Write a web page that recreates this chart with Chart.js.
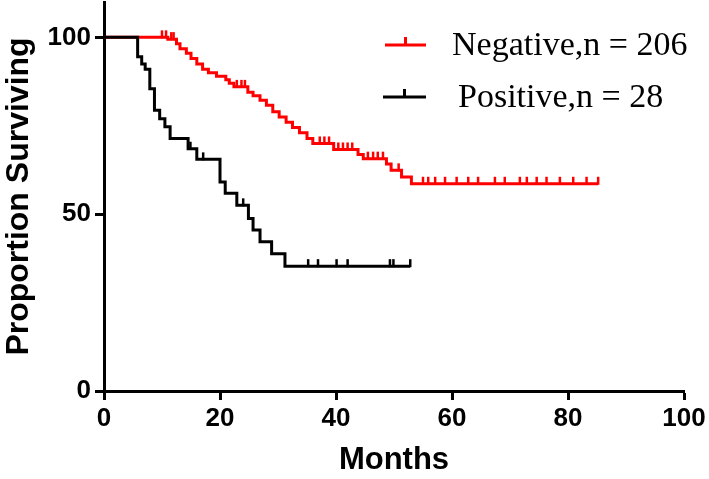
<!DOCTYPE html>
<html>
<head>
<meta charset="utf-8">
<script src="https://cdn.jsdelivr.net/npm/chart.js@4.4.0/dist/chart.umd.min.js"></script>
<style>
  html, body { margin: 0; padding: 0; background: #fff; }
  #wrap { width: 709px; height: 479px; position: relative; }
</style>
</head>
<body>
<div id="wrap"><canvas id="km"></canvas></div>
<script>
// Kaplan-Meier data (months, % surviving)
const negTimes = [0, 11.0, 12.5, 13.1, 14.2, 15.0, 16.0, 17.0, 18.0, 19.4, 21.0, 21.6, 22.4, 24.8, 25.7, 26.9, 28.0, 29.1, 30.2, 31.4, 32.5, 33.7, 35.0, 36.0, 39.6, 43.8, 44.7, 48.7, 49.5, 51.3, 53.0, 85.2];
const negSurv  = [100, 99.5, 98.2, 96.8, 95.5, 94, 92.5, 91, 90, 89, 88, 87, 86, 84.5, 83.5, 82.2, 80.8, 79, 77.5, 76, 74.5, 73, 71.4, 70, 68.3, 66.9, 65.7, 64.2, 62.4, 60.5, 58.6, 58.6];
const negCensored = [10.0, 10.7, 11.6, 12.0, 22.9, 23.7, 24.3, 37.2, 38.0, 38.8, 40.4, 41.2, 42.0, 42.8, 45.5, 46.4, 47.2, 48.1, 50.8, 55.0, 55.9, 57.1, 58.8, 60.8, 62.8, 64.5, 67.4, 69.1, 71.7, 72.9, 74.6, 76.3, 78.6, 80.9, 83.2, 85.2];

const posTimes = [0, 5.8, 6.5, 7.1, 7.9, 8.7, 9.6, 10.5, 11.4, 14.5, 16.0, 20.0, 20.9, 22.9, 24.9, 25.7, 26.9, 28.9, 31.2, 52.8];
const posSurv  = [100, 94.5, 92.5, 91, 85.5, 79.4, 77, 74.7, 71.4, 68.5, 65.5, 59.1, 55.9, 52.5, 48.8, 45.5, 42.2, 38.8, 35.3, 35.3];
const posCensored = [14.9, 17.1, 24.0, 35.2, 36.9, 40.1, 42.0, 49.3, 49.9, 52.8];

const xTicks = [0, 20, 40, 60, 80, 100];
const yTicks = [0, 50, 100];
const seriesLabels = ["Negative,n = 206", "Positive,n = 28"];
const seriesColors = ["#ff0000", "#000000"];

function toPoints(ts, vs){ return ts.map((t,i)=>({x:t, y:vs[i]})); }
function survAt(ts, vs, t){
  let v = vs[0];
  for(let i=0;i<ts.length;i++){ if(ts[i] <= t) v = vs[i]; }
  return v;
}

// censor tick marks, drawn through the chart scales
const censorPlugin = {
  id: 'censor',
  afterDatasetsDraw(chart){
    const {ctx, scales:{x, y}} = chart;
    const groups = [
      {ts: posTimes, vs: posSurv, c: posCensored, color: seriesColors[1]},
      {ts: negTimes, vs: negSurv, c: negCensored, color: seriesColors[0]}
    ];
    ctx.save();
    ctx.lineWidth = 2.5;
    groups.forEach(g=>{
      ctx.strokeStyle = g.color;
      g.c.forEach(t=>{
        const px = x.getPixelForValue(t);
        const py = y.getPixelForValue(survAt(g.ts, g.vs, t));
        ctx.beginPath();
        ctx.moveTo(px, py + 1);
        ctx.lineTo(px, py - 7);
        ctx.stroke();
      });
    });
    ctx.restore();
  }
};

// legend in the top right, line with tick + serif text
const legendPlugin = {
  id: 'kmLegend',
  afterDraw(chart){
    const ctx = chart.ctx;
    const rows = [
      {x0: 385, x1: 426, y: 45, tx: 452, label: seriesLabels[0], color: seriesColors[0]},
      {x0: 383, x1: 426, y: 97, tx: 458, label: seriesLabels[1], color: seriesColors[1]}
    ];
    ctx.save();
    rows.forEach(r=>{
      ctx.strokeStyle = r.color;
      ctx.lineWidth = 3;
      ctx.beginPath();
      ctx.moveTo(r.x0, r.y); ctx.lineTo(r.x1, r.y);
      ctx.moveTo((r.x0+r.x1)/2, r.y); ctx.lineTo((r.x0+r.x1)/2, r.y - 8);
      ctx.stroke();
      ctx.fillStyle = '#000';
      ctx.font = '34px "Liberation Serif", "Times New Roman", serif';
      ctx.textBaseline = 'middle';
      ctx.fillText(r.label, r.tx, r.y + 1);
    });
    ctx.restore();
  }
};

const ctx = document.getElementById('km').getContext('2d');
new Chart(ctx, {
  type: 'line',
  data: {
    datasets: [
      {
        label: seriesLabels[1],
        data: toPoints(posTimes, posSurv),
        borderColor: seriesColors[1],
        borderWidth: 3,
        stepped: 'before',
        pointRadius: 0
      },
      {
        label: seriesLabels[0],
        data: toPoints(negTimes, negSurv),
        borderColor: seriesColors[0],
        borderWidth: 3,
        stepped: 'before',
        pointRadius: 0
      }
    ]
  },
  options: {
    responsive: true,
    maintainAspectRatio: false,
    animation: false,
    layout: { padding: { top: 2, right: 25, left: 0, bottom: 0 } },
    plugins: { legend: { display: false }, tooltip: { enabled: false } },
    scales: {
      x: {
        type: 'linear',
        min: 0, max: 100,
        afterBuildTicks: s => { s.ticks = xTicks.map(v=>({value:v})); },
        afterFit: s => { s.height = 88; s.paddingLeft = 0; s.paddingRight = 0; },
        border: { display: true, color: '#000', width: 3 },
        grid: { drawOnChartArea: false, drawTicks: true, tickLength: 9, tickWidth: 3, color: '#000' },
        ticks: { color: '#000', padding: 3, maxRotation: 0, font: { family: '"Liberation Sans", Arial', size: 26, weight: 'bold' } },
        title: { display: true, text: 'Months', color: '#000', padding: { top: 7, bottom: 0 }, font: { family: '"Liberation Sans", Arial', size: 31, weight: 'bold' } }
      },
      y: {
        min: 0, max: 110,
        afterBuildTicks: s => { s.ticks = yTicks.map(v=>({value:v})); },
        afterFit: s => { s.width = 104; s.paddingTop = 0; s.paddingBottom = 0; },
        border: { display: true, color: '#000', width: 3 },
        grid: { drawOnChartArea: false, drawTicks: true, tickLength: 9, tickWidth: 3, color: '#000' },
        ticks: { color: '#000', padding: 4, font: { family: '"Liberation Sans", Arial', size: 26, weight: 'bold' } },
        title: { display: true, text: 'Proportion Surviving', color: '#000', padding: { top: 0, bottom: 0 }, font: { family: '"Liberation Sans", Arial', size: 32, weight: 'bold' } }
      }
    }
  },
  plugins: [censorPlugin, legendPlugin]
});
</script>
</body>
</html>
